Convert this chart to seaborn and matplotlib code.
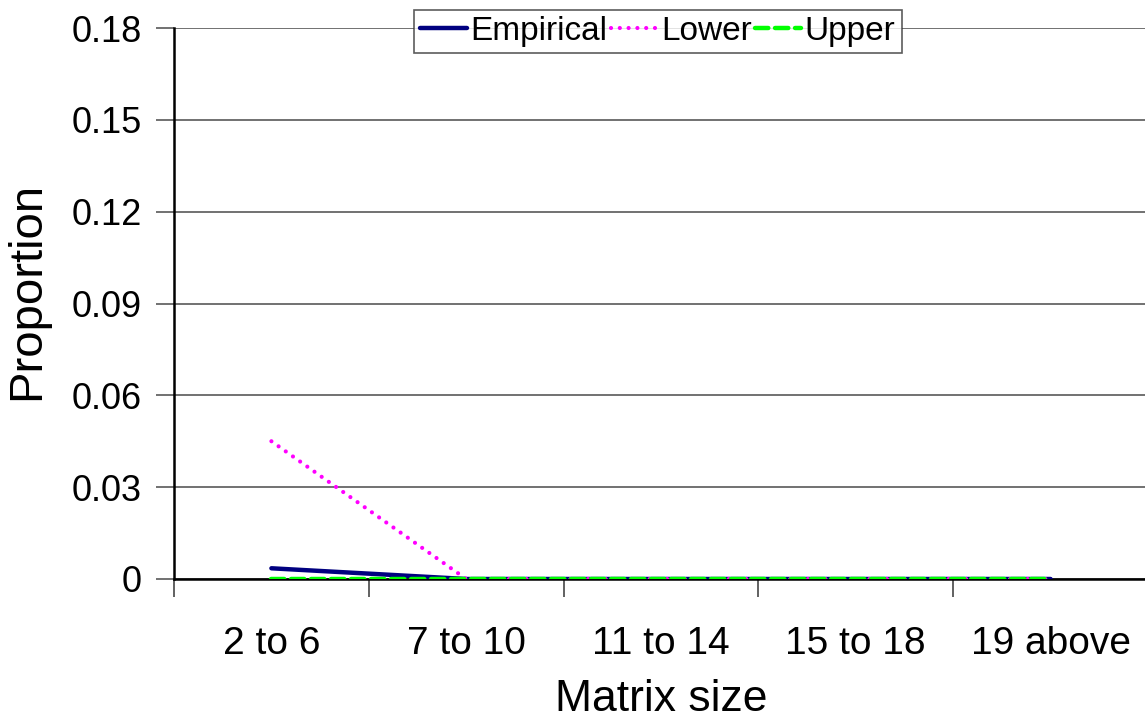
import numpy as np
import pandas as pd
import matplotlib
matplotlib.use("Agg")
import matplotlib.pyplot as plt
import seaborn as sns

categories = ["2 to 6", "7 to 10", "11 to 14", "15 to 18", "19 above"]
empirical = [0.0035, 0.0, 0.0, 0.0, 0.0]
lower = [0.045, 0.0, 0.0, 0.0, 0.0]
upper = [0.0, 0.0, 0.0, 0.0, 0.0]
yticks = [0, 0.03, 0.06, 0.09, 0.12, 0.15, 0.18]
ytick_labels = ["0", "0.03", "0.06", "0.09", "0.12", "0.15", "0.18"]

sns.set_style("white")
plt.rcParams['font.family'] = ['Liberation Sans', 'DejaVu Sans']
plt.rcParams['text.color'] = 'black'
plt.rcParams['axes.labelcolor'] = 'black'
plt.rcParams['xtick.color'] = 'black'
plt.rcParams['ytick.color'] = 'black'

fig = plt.figure(figsize=(11.45, 7.23), dpi=100)
ax = fig.add_axes([174/1145, 1 - 579/723, (1148-174)/1145, (579-28)/723])

pos = np.arange(len(categories))
df = pd.DataFrame({"x": pos, "Empirical": empirical, "Lower": lower, "Upper": upper})

sns.lineplot(data=df, x="x", y="Empirical", ax=ax, color="#000080", lw=3.2,
             solid_capstyle="round", label="Empirical", zorder=3)
sns.lineplot(data=df, x="x", y="Lower", ax=ax, color="#FF00FF", lw=3.0,
             linestyle=(0, (0.01, 2.1)), dash_capstyle="round", label="Lower", zorder=4)
sns.lineplot(data=df, x="x", y="Upper", ax=ax, color="#00FF00", lw=3.2,
             linestyle=(0, (3.0, 1.5)), dash_capstyle="round", label="Upper", zorder=5)

ax.set_xlim(-0.5, 4.5)
ax.set_ylim(0, 0.18)
ax.set_yticks(yticks)
ax.set_yticklabels(ytick_labels)
ax.set_xticks(pos)
ax.set_xticklabels(categories)
ax.set_xticks(np.arange(-0.5, 4.6, 1.0), minor=True)
ax.tick_params(axis="x", which="major", length=0, pad=34, labelsize=28, labelcolor="black")
ax.tick_params(axis="x", which="minor", length=13, width=1.3, color="#555555", direction="out", bottom=True)
ax.tick_params(axis="y", which="major", length=13, width=1.3, color="#666666", direction="out", left=True,
               labelsize=26, pad=10, labelcolor="black")

ax.yaxis.grid(True, color="#666666", lw=1.3, zorder=0)
ax.xaxis.grid(False)
for s in ["top", "right"]:
    ax.spines[s].set_visible(False)
ax.spines["left"].set_color("black")
ax.spines["left"].set_linewidth(1.8)
ax.spines["bottom"].set_color("black")
ax.spines["bottom"].set_linewidth(1.8)
ax.spines["bottom"].set_zorder(2)

ax.set_xlabel("Matrix size", fontsize=32, labelpad=12)
ax.set_ylabel("Proportion", fontsize=34)
ax.yaxis.set_label_coords(-0.128, 0.522)

leg = ax.legend(loc="upper center", bbox_to_anchor=(658/1145, 1 - 10/723),
                bbox_transform=fig.transFigure, ncol=3, fontsize=24,
                frameon=True, fancybox=False, edgecolor="#333333",
                handlelength=1.4, handletextpad=0.1, columnspacing=0.1,
                borderpad=0.18, borderaxespad=0)
leg.get_frame().set_linewidth(1.2)
leg.set_zorder(10)

fig.savefig("out.png", dpi=100)
